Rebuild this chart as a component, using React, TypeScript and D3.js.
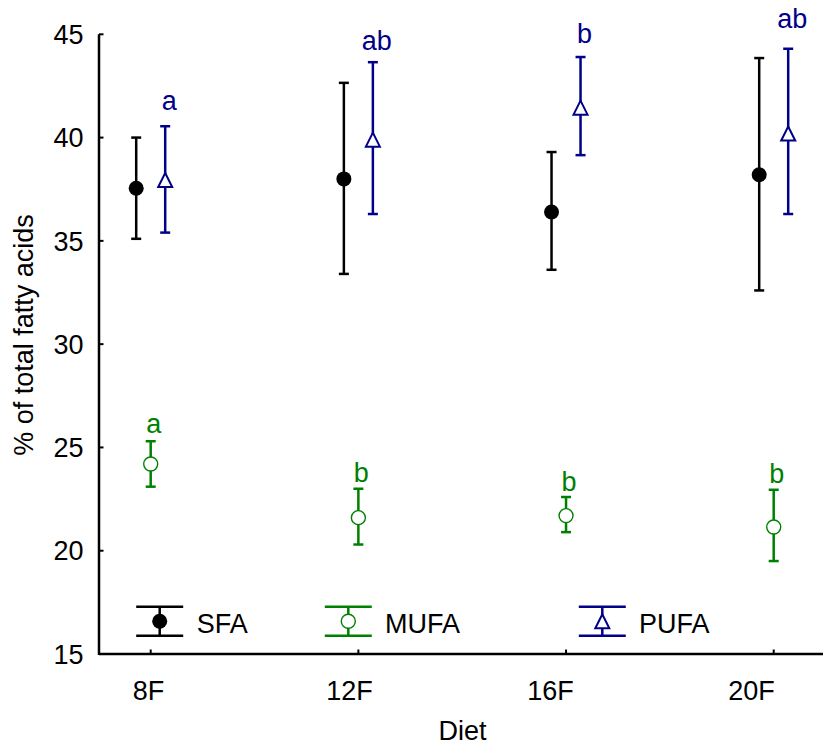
import React from "react";
import * as d3 from "d3";

const categories = ["8F", "12F", "16F", "20F"];
const yTicks = [15, 20, 25, 30, 35, 40, 45];

const sfaMean = [37.55, 38.0, 36.4, 38.2];
const sfaLow = [35.1, 33.4, 33.6, 32.6];
const sfaHigh = [40.0, 42.65, 39.3, 43.85];

const mufaMean = [24.2, 21.6, 21.7, 21.15];
const mufaLow = [23.1, 20.3, 20.9, 19.5];
const mufaHigh = [25.3, 23.0, 22.6, 22.95];

const pufaMean = [37.95, 39.9, 41.45, 40.2];
const pufaLow = [35.4, 36.3, 39.15, 36.3];
const pufaHigh = [40.55, 43.65, 43.9, 44.3];

const mufaLetters = ["a", "b", "b", "b"];
const mufaLetterAt = [25.68, 23.34, 22.89, 23.26];
const pufaLetters = ["a", "ab", "b", "ab"];
const pufaLetterAt = [41.33, 44.24, 44.56, 45.29];

const seriesNames = ["SFA", "MUFA", "PUFA"];

const W = 823;
const H = 746;
const FONT = "'Liberation Sans', Arial, sans-serif";
const FS = 27;
const BLACK = "#000000";
const GREEN = "#008000";
const BLUE = "#000088";

export default function App() {
  const x = d3.scaleLinear().domain([0, 3]).range([150.7, 773.7]);
  const xLabel = d3.scaleLinear().domain([0, 3]).range([148.5, 751.5]);
  const y = d3.scaleLinear().domain([15, 45]).range([654, 34.3]);
  const off = 14.5;

  const series = [
    { name: "SFA", mean: sfaMean, low: sfaLow, high: sfaHigh, color: BLACK, dx: -off, marker: "dot" },
    { name: "MUFA", mean: mufaMean, low: mufaLow, high: mufaHigh, color: GREEN, dx: 0, marker: "circle" },
    { name: "PUFA", mean: pufaMean, low: pufaLow, high: pufaHigh, color: BLUE, dx: off, marker: "tri" },
  ];

  const marker = (kind: string, cx: number, cy: number, color: string, key: string) => {
    if (kind === "dot") return <circle key={key} cx={cx} cy={cy} r={7.5} fill={BLACK} />;
    if (kind === "circle")
      return <circle key={key} cx={cx} cy={cy} r={7} fill="#fff" stroke={color} strokeWidth={1.4} />;
    const p = d3.path();
    p.moveTo(cx, cy - 7);
    p.lineTo(cx + 7, cy + 7);
    p.lineTo(cx - 7, cy + 7);
    p.closePath();
    return <path key={key} d={p.toString()} fill="#fff" stroke={color} strokeWidth={2} />;
  };

  const capW = 5;
  const legendX = [159.7, 348.3, 602.3];
  const legendTextX = [196.7, 385, 639];
  const legendTop = 606.7;
  const legendBot = 635.7;

  return (
    <svg width={W} height={H} style={{ position: "absolute", left: 0, top: 0, background: "#fff" }} fontFamily={FONT}>
      <rect width={W} height={H} fill="#fff" />
      {/* axes */}
      <line x1={99} x2={99} y1={y(45)} y2={y(15) + 1} stroke="#000" strokeWidth={2.5} />
      <line x1={99} x2={W} y1={y(15)} y2={y(15)} stroke="#000" strokeWidth={2.5} />
      {yTicks.map((t) => (
        <g key={t}>
          <line x1={99} x2={103.5} y1={y(t)} y2={y(t)} stroke="#000" strokeWidth={2} />
          <text x={83.5} y={y(t)} dy="0.36em" textAnchor="end" fontSize={FS}>{t}</text>
        </g>
      ))}
      {categories.map((c, i) => (
        <g key={c}>
          <line x1={x(i)} x2={x(i)} y1={y(15)} y2={y(15) - 4.5} stroke="#000" strokeWidth={2} />
          <text x={xLabel(i)} y={700} textAnchor="middle" fontSize={FS}>{c}</text>
        </g>
      ))}
      <text x={462.5} y={740} textAnchor="middle" fontSize={FS}>Diet</text>
      <text transform={`translate(33,335) rotate(-90)`} textAnchor="middle" fontSize={FS}>% of total fatty acids</text>

      {/* error bars and markers */}
      {series.map((s) =>
        categories.map((c, i) => {
          const cx = x(i) + s.dx;
          return (
            <g key={s.name + c}>
              <line x1={cx} x2={cx} y1={y(s.low[i])} y2={y(s.high[i])} stroke={s.color} strokeWidth={2.5} />
              <line x1={cx - capW} x2={cx + capW} y1={y(s.low[i])} y2={y(s.low[i])} stroke={s.color} strokeWidth={2.5} />
              <line x1={cx - capW} x2={cx + capW} y1={y(s.high[i])} y2={y(s.high[i])} stroke={s.color} strokeWidth={2.5} />
              {marker(s.marker, cx, y(s.mean[i]), s.color, "m")}
            </g>
          );
        })
      )}

      {/* letters */}
      {categories.map((c, i) => (
        <text key={"ml" + c} x={x(i) + 3} y={y(mufaLetterAt[i])} textAnchor="middle" fontSize={FS} fill={GREEN}>{mufaLetters[i]}</text>
      ))}
      {categories.map((c, i) => (
        <text key={"pl" + c} x={x(i) + off + 4} y={y(pufaLetterAt[i])} textAnchor="middle" fontSize={FS} fill={BLUE}>{pufaLetters[i]}</text>
      ))}

      {/* legend */}
      {series.map((s, k) => {
        const lx = legendX[k];
        const my = (legendTop + legendBot) / 2;
        return (
          <g key={"lg" + s.name}>
            <line x1={lx - 23.5} x2={lx + 23.5} y1={legendTop} y2={legendTop} stroke={s.color} strokeWidth={2.5} />
            <line x1={lx - 23.5} x2={lx + 23.5} y1={legendBot} y2={legendBot} stroke={s.color} strokeWidth={2.5} />
            <line x1={lx} x2={lx} y1={legendTop} y2={legendBot} stroke={s.color} strokeWidth={2.5} />
            {marker(s.marker, lx, my, s.color, "lm")}
            <text x={legendTextX[k]} y={632.5} fontSize={FS} fill="#000">{seriesNames[k]}</text>
          </g>
        );
      })}
    </svg>
  );
}
